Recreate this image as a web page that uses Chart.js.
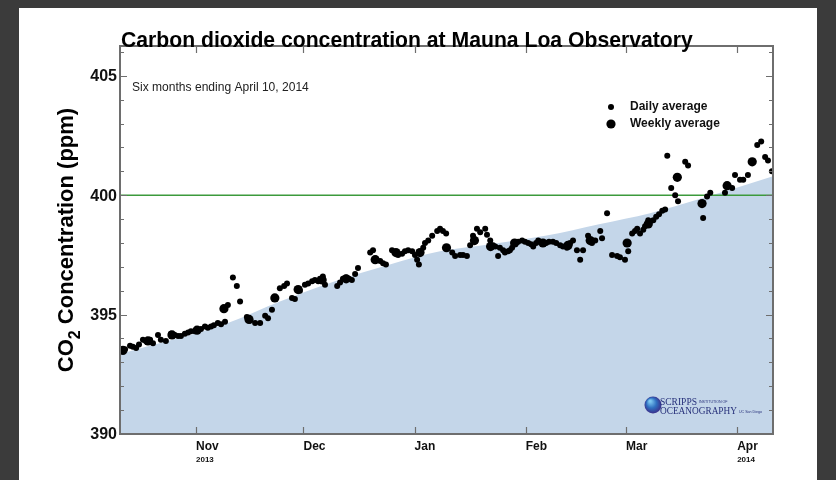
<!DOCTYPE html>
<html>
<head>
<meta charset="utf-8">
<script src="https://cdn.jsdelivr.net/npm/chart.js@4.4.1/dist/chart.umd.min.js"></script>
<style>
    html, body { margin: 0; padding: 0; background: #3b3b3b; }
    #wrap { position: absolute; left: 0; top: 0; width: 836px; height: 480px; }
</style>
</head>
<body>
<div id="wrap"><canvas id="co2Chart" width="836" height="480"></canvas></div>
<script>
// days counted from Oct 1, 2013 (day 0)
const monthDays = [31, 61, 92, 123, 151, 182];
const monthLabels = ["Nov", "Dec", "Jan", "Feb", "Mar", "Apr"];
const monthYears = ["2013", "", "", "", "", "2014"];
const yMajorTicks = [390, 395, 400, 405];
const yMinorTicks = [391, 392, 393, 394, 396, 397, 398, 399, 401, 402, 403, 404, 406];
const targetLevel = 400;

const dailyDays = [
    10.1, 11.2, 12.6, 13.4, 14.3, 15.1, 16.2, 17.0, 18.2, 19.0, 20.4, 21.2, 22.6, 24.0, 25.1, 26.0, 26.8,
    27.9, 28.8, 29.6, 30.7, 31.6, 32.4, 33.5, 34.3, 35.2, 36.0, 37.1, 38.0, 39.1, 39.9, 41.3, 42.4, 43.3,
    45.2, 46.1, 47.5, 48.9, 50.3, 51.1, 52.2, 54.4, 55.6, 56.4, 57.8, 58.6, 60.0, 61.4, 62.3, 63.4, 64.2,
    65.1, 65.6, 66.4, 67.0, 70.4, 71.2, 72.0, 72.9, 73.7, 74.5, 75.4, 76.2, 79.6, 80.4, 81.2, 82.4, 83.2,
    84.0, 85.7, 86.5, 87.4, 88.5, 89.3, 90.2, 91.3, 92.1, 92.7, 93.2, 94.4, 94.9, 95.8, 96.9, 98.3, 99.1,
    99.9, 100.8, 102.5, 103.3, 104.7, 105.5, 106.6, 107.5, 108.3, 109.4, 110.3, 111.7, 112.2, 113.1, 113.9,
    114.5, 115.3, 115.8, 116.7, 117.2, 118.1, 118.6, 119.2, 120.0, 120.9, 122.0, 122.8, 123.7, 124.5, 125.1,
    125.9, 126.5, 127.0, 127.8, 128.7, 129.5, 130.6, 131.5, 132.6, 133.4, 134.5, 135.4, 136.2, 137.3, 138.2,
    139.0, 140.4, 141.5, 142.4, 143.8, 144.3, 145.7, 147.1, 148.5, 149.3, 150.7, 151.6, 152.7, 153.5, 154.1,
    154.9, 155.8, 156.3, 157.2, 157.7, 158.6, 159.4, 160.2, 161.1, 161.9, 162.5, 163.6, 164.7, 165.5, 167.5,
    168.3, 172.5, 173.6, 174.5, 178.6, 180.6, 181.4, 182.8, 183.7, 185.0, 187.6, 188.7, 189.8, 190.6, 191.7
];
const dailyValues = [
    393.5, 393.55, 393.7, 393.65, 393.6, 393.75, 393.95, 393.9, 393.95, 393.8, 394.15, 393.95, 393.9, 394.2, 394.15, 394.1, 394.1,
    394.2, 394.25, 394.3, 394.3, 394.35, 394.4, 394.5, 394.45, 394.5, 394.55, 394.65, 394.6, 394.7, 395.4, 396.55, 396.2, 395.55,
    394.9, 394.75, 394.65, 394.65, 394.95, 394.85, 395.2, 396.1, 396.2, 396.3, 395.7, 395.65, 396.0, 396.25, 396.3, 396.4, 396.45,
    396.4, 396.5, 396.6, 396.25, 396.2, 396.35, 396.5, 396.55, 396.5, 396.45, 396.7, 396.95, 397.6, 397.7, 397.35, 397.25, 397.15,
    397.1, 397.7, 397.6, 397.5, 397.55, 397.65, 397.7, 397.65, 397.5, 397.3, 397.1, 397.8, 398.0, 398.1, 398.3, 398.5, 398.6,
    398.5, 398.4, 397.6, 397.45, 397.5, 397.5, 397.45, 397.9, 398.3, 398.6, 398.45, 398.6, 398.35, 398.1, 397.9,
    397.85, 397.45, 397.8, 397.7, 397.6, 397.65, 397.7, 397.8, 398.0, 398.05, 398.1, 398.05, 398.0, 397.95, 397.85,
    398.0, 398.1, 398.05, 398.0, 398.0, 398.05, 398.05, 398.0, 397.9, 397.85, 397.8, 398.0, 398.1, 397.7, 397.3,
    397.7, 398.3, 398.0, 398.1, 398.5, 398.2, 399.25, 397.5, 397.45, 397.4, 397.3, 397.65, 398.4, 398.5, 398.6,
    398.4, 398.55, 398.7, 398.95, 398.9, 398.95, 399.1, 399.2, 399.35, 399.4, 401.65, 400.3, 400.0, 399.75, 401.4,
    401.25, 399.05, 399.95, 400.1, 400.1, 400.3, 400.85, 400.65, 400.65, 400.85, 402.1, 402.25, 401.6, 401.45, 401.0
];

const weeklyDays = [10.6, 17.6, 24.3, 31.3, 38.8, 45.8, 53.0, 59.5, 66.2, 72.9, 81.0, 86.8, 93.5,
    100.9, 108.7, 113.2, 119.9, 127.8, 134.8, 141.0, 151.3, 157.2, 165.3, 172.2, 179.2, 186.2];
const weeklyValues = [393.5, 393.9, 394.15, 394.35, 395.25, 394.8, 395.7, 396.05, 396.45, 396.5, 397.3, 397.6, 397.6,
    397.8, 398.1, 397.85, 398.0, 398.0, 397.9, 398.1, 398.0, 398.8, 400.75, 399.65, 400.4, 401.4];

const trendDays = [9.8, 39.9, 54.4, 69.8, 85.1, 99.1, 113.1, 128.4, 143.8, 157.7, 171.7, 192];
const trendValues = [393.35, 394.65, 395.55, 396.4, 397.1, 397.65, 397.95, 398.3, 398.8, 399.25, 399.85, 400.8];

const xMin = 9.8;
const xMax = 192;

const toPoints = (xs, ys) => xs.map((x, i) => ({ x: x, y: ys[i] }));

function fitFont(c, text, weight, family, width) {
    c.font = weight + " 20px " + family;
    const size = 20 * width / c.measureText(text).width;
    return weight + " " + size.toFixed(2) + "px " + family;
}

const decorPlugin = {
    id: "decor",
    beforeDraw(chart) {
        const c = chart.ctx;
        c.save();
        c.fillStyle = "#3b3b3b";
        c.fillRect(0, 0, 836, 480);
        c.fillStyle = "#ffffff";
        c.fillRect(19, 8, 798, 472);
        c.restore();
    },
    afterDatasetsDraw(chart) {
        const c = chart.ctx;
        c.save();
        // subtitle
        c.fillStyle = "#222";
        c.textBaseline = "middle";
        c.font = fitFont(c, "Six months ending April 10, 2014", "normal", "'Liberation Sans', Arial", 177);
        c.fillText("Six months ending April 10, 2014", 132, 88);

        // legend
        c.fillStyle = "#000";
        c.beginPath(); c.arc(611, 107, 3, 0, Math.PI * 2); c.fill();
        c.beginPath(); c.arc(611, 124, 4.6, 0, Math.PI * 2); c.fill();
        c.fillStyle = "#111";
        c.font = "bold 12px 'Liberation Sans', Arial";
        c.fillText("Daily average", 630, 107);
        c.fillText("Weekly average", 630, 124);

        // scripps logo
        const g = c.createRadialGradient(650, 401, 1, 653, 405, 9);
        g.addColorStop(0, "#7cc6f0");
        g.addColorStop(0.5, "#2f6fc0");
        g.addColorStop(1, "#3b2a86");
        c.fillStyle = g;
        c.beginPath(); c.arc(653, 405, 8.5, 0, Math.PI * 2); c.fill();
        c.fillStyle = "#26307a";
        c.textBaseline = "alphabetic";
        c.font = fitFont(c, "SCRIPPS", "normal", "'Liberation Serif', 'DejaVu Serif', serif", 37);
        c.fillText("SCRIPPS", 660, 405);
        c.font = fitFont(c, "OCEANOGRAPHY", "normal", "'Liberation Serif', 'DejaVu Serif', serif", 77);
        c.fillText("OCEANOGRAPHY", 660, 414);
        c.font = "3.6px 'Liberation Sans', Arial";
        c.fillText("INSTITUTION OF", 699, 403);
        c.fillText("UC San Diego", 739, 413);
        c.restore();
    },
    afterDraw(chart) {
        const c = chart.ctx;
        const a = chart.chartArea;
        const xs = chart.scales.x;
        const ys = chart.scales.y;
        c.save();

        // frame
        c.strokeStyle = "#6e6e6e";
        c.lineWidth = 2;
        c.strokeRect(a.left, a.top, a.right - a.left, a.bottom - a.top);

        // y ticks, inward, both sides
        c.lineWidth = 1.2;
        c.beginPath();
        yMajorTicks.forEach(v => {
            const y = Math.round(ys.getPixelForValue(v)) + 0.5;
            c.moveTo(a.left, y); c.lineTo(a.left + 7, y);
            c.moveTo(a.right, y); c.lineTo(a.right - 7, y);
        });
        yMinorTicks.forEach(v => {
            const y = Math.round(ys.getPixelForValue(v)) + 0.5;
            c.moveTo(a.left, y); c.lineTo(a.left + 4, y);
            c.moveTo(a.right, y); c.lineTo(a.right - 4, y);
        });
        // month ticks, top and bottom
        monthDays.forEach(d => {
            const x = Math.round(xs.getPixelForValue(d)) + 0.5;
            c.moveTo(x, a.bottom); c.lineTo(x, a.bottom - 7);
            c.moveTo(x, a.top); c.lineTo(x, a.top + 7);
        });
        c.stroke();

        // y tick labels
        c.fillStyle = "#111";
        c.font = "bold 16px 'Liberation Sans', Arial";
        c.textAlign = "right";
        c.textBaseline = "middle";
        yMajorTicks.forEach(v => {
            c.fillText(String(v), a.left - 3, ys.getPixelForValue(v) + 1);
        });

        // month labels
        c.textAlign = "left";
        monthDays.forEach((d, i) => {
            const x = xs.getPixelForValue(d);
            c.font = "bold 12px 'Liberation Sans', Arial";
            c.fillText(monthLabels[i], x, a.bottom + 13);
            if (monthYears[i]) {
                c.font = "bold 8px 'Liberation Sans', Arial";
                c.fillText(monthYears[i], x, a.bottom + 26);
            }
        });

        // title
        c.fillStyle = "#000";
        c.textBaseline = "alphabetic";
        const title = "Carbon dioxide concentration at Mauna Loa Observatory";
        c.font = fitFont(c, title, "bold", "'Liberation Sans', Arial", 572);
        c.fillText(title, 121, 47);

        // y axis title with subscript
        c.translate(67, (a.top + a.bottom) / 2);
        c.rotate(-Math.PI / 2);
        const big = "bold 22px 'Liberation Sans', Arial";
        const small = "bold 16px 'Liberation Sans', Arial";
        c.font = big;
        const w1 = c.measureText("CO").width;
        const w3 = c.measureText(" Concentration (ppm)").width;
        c.font = small;
        const w2 = c.measureText("2").width;
        let x0 = -(w1 + w2 + w3) / 2;
        c.textBaseline = "middle";
        c.font = big;
        c.fillText("CO", x0, 0);
        c.font = small;
        c.fillText("2", x0 + w1, 9);
        c.font = big;
        c.fillText(" Concentration (ppm)", x0 + w1 + w2, 0);
        c.restore();
    }
};

new Chart(document.getElementById("co2Chart"), {
    type: "scatter",
    data: {
        datasets: [
            {
                label: "Weekly average",
                data: toPoints(weeklyDays, weeklyValues),
                backgroundColor: "#000",
                borderWidth: 0,
                pointRadius: 4.6,
                order: 0
            },
            {
                label: "Daily average",
                data: toPoints(dailyDays, dailyValues),
                backgroundColor: "#000",
                borderWidth: 0,
                pointRadius: 3,
                order: 1
            },
            {
                type: "line",
                label: "400 ppm",
                data: [{ x: xMin, y: targetLevel }, { x: xMax, y: targetLevel }],
                borderColor: "#3c9a3c",
                borderWidth: 1.6,
                pointRadius: 0,
                fill: false,
                order: 2
            },
            {
                type: "line",
                label: "Trend",
                data: toPoints(trendDays, trendValues),
                borderColor: "rgba(0,0,0,0)",
                borderWidth: 0,
                backgroundColor: "#c4d6e9",
                fill: "start",
                pointRadius: 0,
                cubicInterpolationMode: "monotone",
                order: 3
            }
        ]
    },
    options: {
        responsive: false,
        animation: false,
        events: [],
        layout: { padding: { left: 120, top: 46, right: 63, bottom: 46 } },
        plugins: {
            legend: { display: false },
            tooltip: { enabled: false },
            title: { display: false }
        },
        scales: {
            x: { type: "linear", min: xMin, max: xMax, display: false },
            y: { min: 390, max: 406.25, display: false }
        }
    },
    plugins: [decorPlugin]
});
</script>
</body>
</html>
